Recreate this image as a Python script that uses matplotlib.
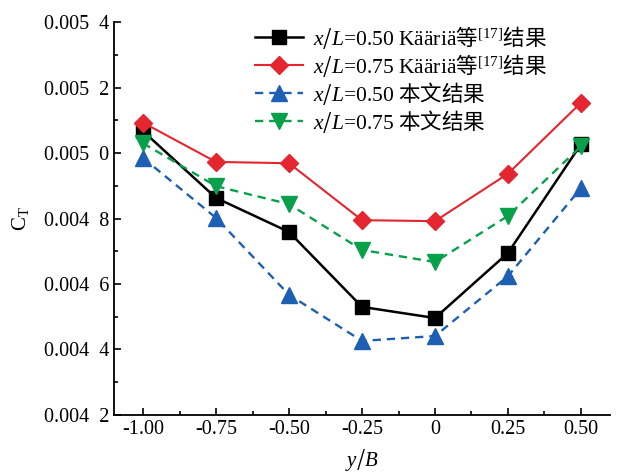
import matplotlib
matplotlib.use("Agg")
import matplotlib.pyplot as plt
from matplotlib.ticker import MultipleLocator, FuncFormatter

plt.rcParams['font.family'] = ['Liberation Serif', 'Noto Sans CJK SC', 'DejaVu Sans']
plt.rcParams['mathtext.fontset'] = 'custom'
plt.rcParams['mathtext.rm'] = 'Noto Sans CJK SC'
plt.rcParams['mathtext.it'] = 'Liberation Serif:italic'
plt.rcParams['mathtext.sf'] = 'Liberation Serif'

# y/B 位置
y_b = [-1.00, -0.75, -0.50, -0.25, 0.0, 0.25, 0.50]

# 推力系数 C_T
kaaria_050 = [0.005067, 0.004863, 0.004759, 0.004530, 0.004496, 0.004695, 0.005027]
kaaria_075 = [0.005093, 0.004973, 0.004969, 0.004795, 0.004792, 0.004937, 0.005154]
ours_050 = [0.004985, 0.004802, 0.004567, 0.004426, 0.004441, 0.004624, 0.004893]
ours_075 = [0.005030, 0.004899, 0.004844, 0.004704, 0.004667, 0.004808, 0.005021]

labels = [
    r"$\mathit{x/L}$=0.50 Kääriä$\mathrm{等}^{\mathsf{[17]}}\mathrm{结果}$",
    r"$\mathit{x/L}$=0.75 Kääriä$\mathrm{等}^{\mathsf{[17]}}\mathrm{结果}$",
    r"$\mathit{x/L}$=0.50 $\mathrm{本文结果}$",
    r"$\mathit{x/L}$=0.75 $\mathrm{本文结果}$",
]

black = "#000000"
red = "#e3262f"
blue = "#1d5fb2"
green = "#08a04b"

fig = plt.figure(figsize=(6.22, 4.72), dpi=100)
ax = fig.add_axes([0.183, 0.121, 0.798, 0.832])

ax.plot(y_b, kaaria_050, color=black, lw=1.8, marker="s", ms=9.5, label=labels[0])
ax.plot(y_b, kaaria_075, color=red, lw=1.5, marker="D", ms=9, label=labels[1])
ax.plot(y_b, ours_050, color=blue, lw=1.7, ls=(0, (3.5, 2.5)), marker="^", ms=11, label=labels[2])
ax.plot(y_b, ours_075, color=green, lw=1.7, ls=(0, (3.5, 2.5)), marker="v", ms=11, label=labels[3])

ax.set_xlim(-1.10, 0.60)
ax.set_ylim(0.0042, 0.0054)
ax.xaxis.set_major_locator(MultipleLocator(0.25))
ax.xaxis.set_minor_locator(MultipleLocator(0.125))
ax.yaxis.set_major_locator(MultipleLocator(0.0002))
ax.yaxis.set_minor_locator(MultipleLocator(0.0001))


def fmt_x(v, pos):
    if abs(v) < 1e-9:
        return "0"
    return f"{v:.2f}"


def fmt_y(v, pos):
    s = f"{v:.4f}"
    return s[:-1] + "  " + s[-1]


ax.xaxis.set_major_formatter(FuncFormatter(fmt_x))
ax.yaxis.set_major_formatter(FuncFormatter(fmt_y))

ax.spines['top'].set_visible(False)
ax.spines['right'].set_visible(False)
ax.spines['left'].set_linewidth(1.3)
ax.spines['bottom'].set_linewidth(1.3)
ax.tick_params(which="both", direction="in", labelsize=14.5, width=1.2)
ax.tick_params(which="major", length=5)
ax.tick_params(which="minor", length=3)

ax.set_xlabel(r"$\mathit{y/B}$", fontsize=15, labelpad=6)
ax.set_ylabel(r"$\mathsf{C}_{\mathsf{T}}$", fontsize=15, labelpad=9)

ax.legend(loc="upper left", bbox_to_anchor=(0.255, 1.035), frameon=False, fontsize=15.5,
          handlelength=2.2, handletextpad=0.45, labelspacing=0.05, borderpad=0.2)

fig.savefig("out.png", dpi=100)
